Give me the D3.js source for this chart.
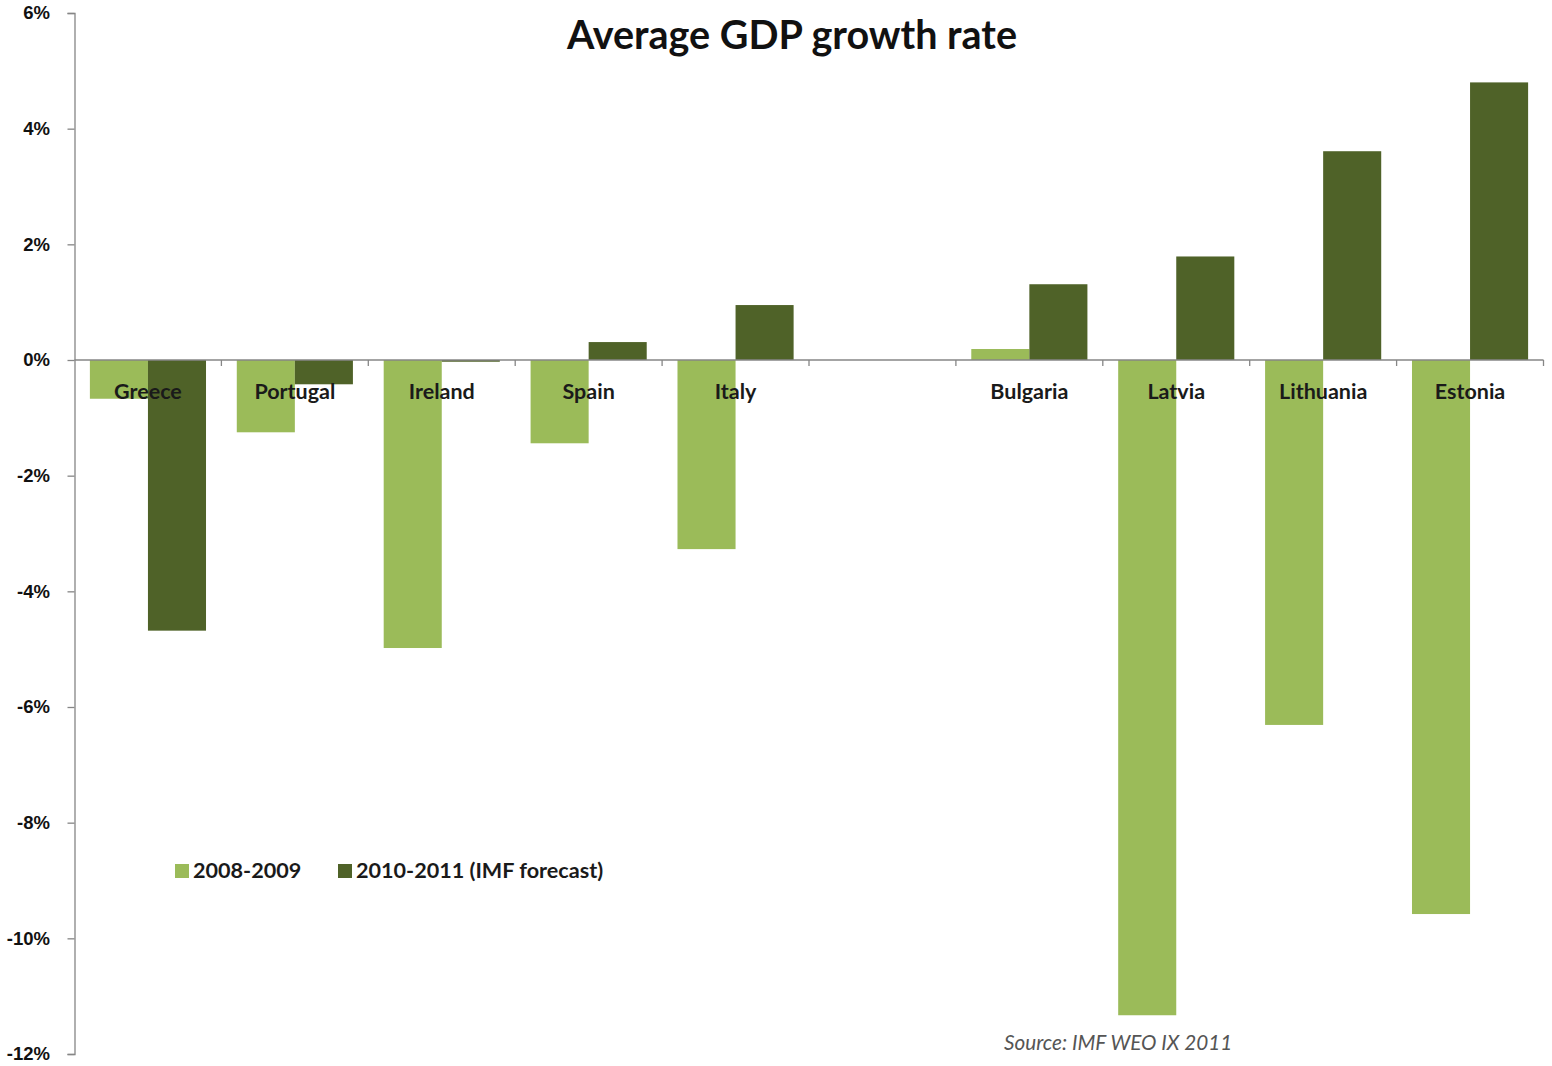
<!DOCTYPE html>
<html>
<head>
<meta charset="utf-8">
<script src="https://cdnjs.cloudflare.com/ajax/libs/d3/7.8.5/d3.min.js"></script>
<style>
  html, body { margin: 0; padding: 0; background: #fff; }
  svg { display: block; }
</style>
</head>
<body>
<script>
// Average GDP growth rate by country, two periods
const categories = ["Greece", "Portugal", "Ireland", "Spain", "Italy", "", "Bulgaria", "Latvia", "Lithuania", "Estonia"];
const seriesNames = ["2008-2009", "2010-2011 (IMF forecast)"];
const growth2008_2009 = [-0.67, -1.25, -4.98, -1.44, -3.27, null, 0.19, -11.33, -6.31, -9.58];
const growth2010_2011 = [-4.68, -0.42, -0.03, 0.31, 0.95, null, 1.31, 1.79, 3.61, 4.80];
const yTicks = [6, 4, 2, 0, -2, -4, -6, -8, -10, -12];
const colors = ["#9BBB59", "#4F6228"];

const W = 1552, H = 1066;
const svg = d3.select("body").append("svg").attr("width", W).attr("height", H);

const plotLeft = 74.5, plotRight = 1543.5, plotTop = 13, plotBottom = 1054;

const y = d3.scaleLinear().domain([-12, 6]).range([plotBottom, plotTop]);
const x0 = d3.scaleBand().domain(categories).range([plotLeft, plotRight]).padding(0);
const x1 = d3.scaleBand().domain(seriesNames).range([0, x0.bandwidth()])
  .paddingInner(0).paddingOuter(0.265);

const rows = categories.map((c, i) => ({
  cat: c,
  vals: [growth2008_2009[i], growth2010_2011[i]]
}));

// Bars
const groups = svg.append("g").selectAll("g").data(rows).join("g")
  .attr("transform", d => `translate(${x0(d.cat)},0)`);

groups.selectAll("rect")
  .data(d => d.vals.map((v, k) => ({ v, k })).filter(e => e.v !== null))
  .join("rect")
  .attr("x", e => x1(seriesNames[e.k]))
  .attr("width", x1.bandwidth())
  .attr("y", e => y(Math.max(0, e.v)))
  .attr("height", e => Math.max(1, Math.abs(y(e.v) - y(0))))
  .attr("fill", e => colors[e.k]);

// Y axis
const yAxis = d3.axisLeft(y).tickValues(yTicks).tickSize(7).tickPadding(17.5)
  .tickFormat(d => d + "%");
const yg = svg.append("g").attr("transform", `translate(${plotLeft},0)`).call(yAxis);
yg.select(".domain").attr("stroke", "#868686").attr("stroke-width", 1.3);
yg.selectAll(".tick line").attr("stroke", "#868686").attr("stroke-width", 1.3);
yg.selectAll(".tick text")
  .attr("font-family", "'Liberation Sans', Arial, sans-serif")
  .attr("font-weight", "bold")
  .attr("font-size", 18.5)
  .attr("fill", "#111");

// Category axis along zero, with tick marks at band boundaries
const xAxisG = svg.append("g").attr("transform", `translate(0,${y(0)})`);
xAxisG.append("line")
  .attr("x1", plotLeft).attr("x2", plotRight)
  .attr("stroke", "#868686").attr("stroke-width", 1.3);
const bounds = categories.map(c => x0(c)).concat([x0(categories[categories.length - 1]) + x0.bandwidth()]);
xAxisG.selectAll("line.tk").data(bounds.slice(1)).join("line")
  .attr("class", "tk")
  .attr("x1", d => d).attr("x2", d => d)
  .attr("y1", 0).attr("y2", 6)
  .attr("stroke", "#868686").attr("stroke-width", 1.3);

// Category labels drawn over the bars
svg.append("g").selectAll("text").data(categories).join("text")
  .attr("x", d => x0(d) + x0.bandwidth() / 2)
  .attr("y", y(0) + 39)
  .attr("text-anchor", "middle")
  .attr("font-family", "Lato, 'Open Sans', sans-serif")
  .attr("font-weight", "bold")
  .attr("font-size", 21.5)
  .attr("fill", "#1a1a1a")
  .text(d => d);

// Title
svg.append("text")
  .attr("x", 792).attr("y", 49)
  .attr("text-anchor", "middle")
  .attr("font-family", "Lato, 'Open Sans', sans-serif")
  .attr("font-weight", "bold")
  .attr("font-size", 39.5)
  .attr("fill", "#111")
  .text("Average GDP growth rate");

// Legend
const legend = svg.append("g");
const legendPos = [175, 338];
seriesNames.forEach((s, k) => {
  legend.append("rect")
    .attr("x", legendPos[k]).attr("y", 864)
    .attr("width", 14).attr("height", 14)
    .attr("fill", colors[k]);
  legend.append("text")
    .attr("x", legendPos[k] + 18).attr("y", 878)
    .attr("font-family", "Lato, 'Open Sans', sans-serif")
    .attr("font-weight", "bold")
    .attr("font-size", 21.6)
    .attr("fill", "#1a1a1a")
    .text(s);
});

// Source note
svg.append("text")
  .attr("x", 1004).attr("y", 1050)
  .attr("font-family", "Lato, 'Open Sans', sans-serif")
  .attr("font-style", "italic")
  .attr("font-size", 20.7)
  .attr("fill", "#555")
  .text("Source: IMF WEO IX 2011");
</script>
</body>
</html>
